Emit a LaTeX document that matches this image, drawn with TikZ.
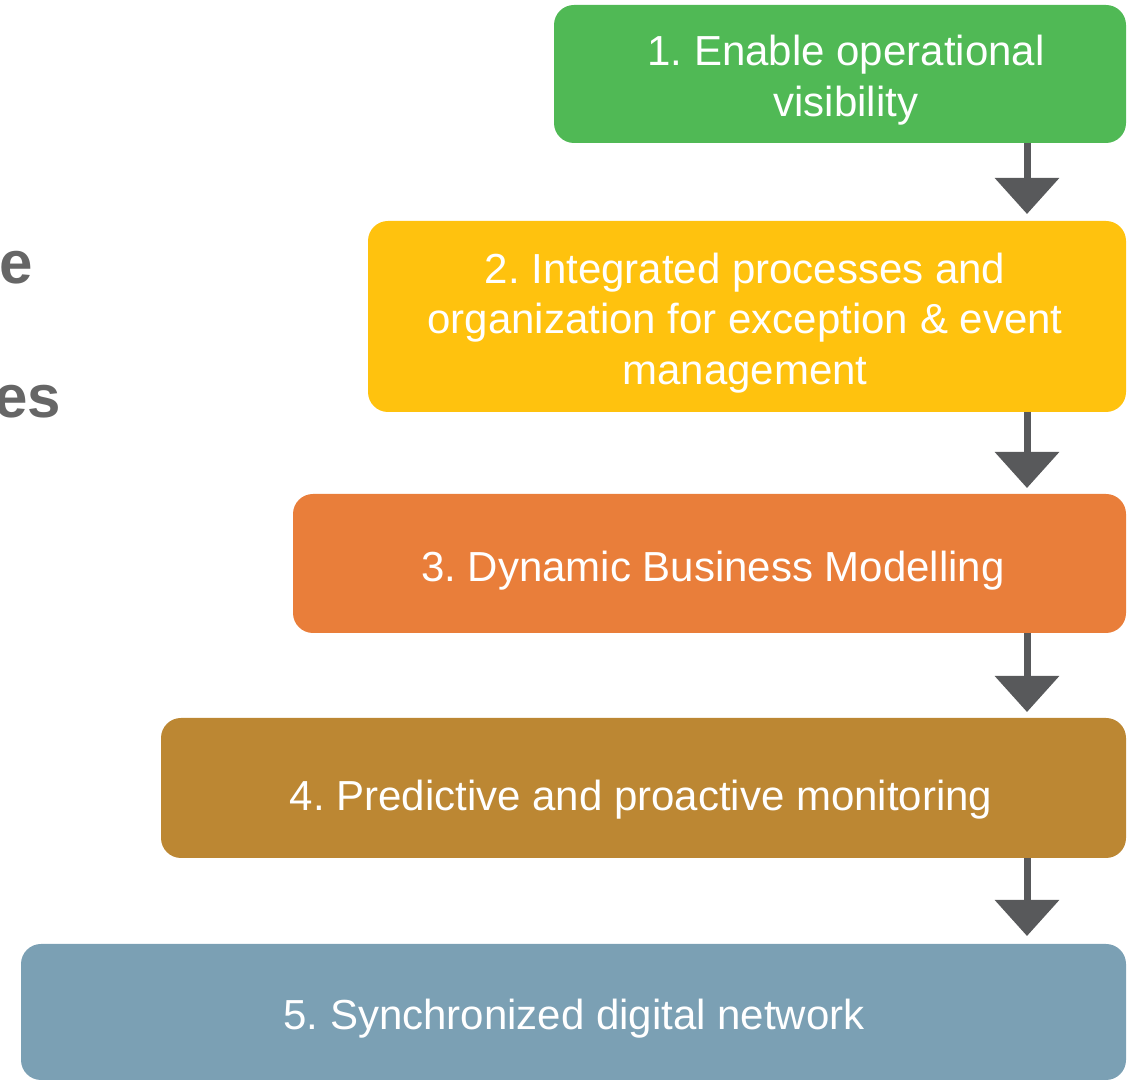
\documentclass[tikz,border=0pt]{standalone}
\usepackage{fontspec}
\setmainfont{Liberation Sans}
\usetikzlibrary{arrows.meta,calc}
\definecolor{cgreen}{HTML}{50B955}
\definecolor{cyellow}{HTML}{FFC20E}
\definecolor{corange}{HTML}{E97E3A}
\definecolor{cbrown}{HTML}{BC8733}
\definecolor{cblue}{HTML}{7BA0B4}
\definecolor{carrow}{HTML}{58595B}
\definecolor{cgraytext}{HTML}{666666}
\frenchspacing
\tikzset{
  stepbox/.style={rounded corners=20pt, inner sep=0pt, text=white, align=center,
    font=\fontsize{42}{50.5}\selectfont\frenchspacing},
  flowarrow/.style={draw=carrow, line width=7pt, -{Triangle[width=63pt,length=36pt]}, color=carrow},
  sidetext/.style={text=cgraytext, font=\fontsize{60}{60}\selectfont\bfseries, inner sep=0pt}
}
\begin{document}
\begin{tikzpicture}[x=1pt,y=1pt]
\useasboundingbox (0,0) rectangle (1140,1081);
% boxes (y = 1081 - pixel y)
\path[fill=cgreen, rounded corners=20pt] (554,1076) rectangle (1126,938);
\node[stepbox, anchor=center] (b1) at (846,1001) {1. Enable operational\\visibility};
\path[fill=cyellow, rounded corners=20pt] (368,860) rectangle (1126,669);
\node[stepbox] (b2) at (745,758) {2. Integrated processes and\\organization for exception \& event\\management};
\path[fill=corange, rounded corners=20pt] (293,587) rectangle (1126,448);
\node[stepbox] (b3) at (713,510) {3. Dynamic Business Modelling};
\path[fill=cbrown, rounded corners=20pt] (161,363) rectangle (1126,223);
\node[stepbox] (b4) at (641,281) {4. Predictive and proactive monitoring};
\path[fill=cblue, rounded corners=20pt] (21,137) rectangle (1126,1);
\node[stepbox] (b5) at (574,62) {5. Synchronized digital network};
% arrow anchors
\coordinate (a1s) at (1027,938);
\coordinate (a1e) at (1027,867);
\coordinate (a2s) at (1027,669);
\coordinate (a2e) at (1027,593);
\coordinate (a3s) at (1027,448);
\coordinate (a3e) at (1027,369);
\coordinate (a4s) at (1027,223);
\coordinate (a4e) at (1027,145);
\draw[flowarrow] (a1s) -- (a1e);
\draw[flowarrow] (a2s) -- (a2e);
\draw[flowarrow] (a3s) -- (a3e);
\draw[flowarrow] (a4s) -- (a4e);
% cut-off side text
\node[sidetext, anchor=base east] (t1) at (33,797) {e};
\node[sidetext, anchor=base east] (t2) at (61,663) {es};
\end{tikzpicture}
\end{document}
